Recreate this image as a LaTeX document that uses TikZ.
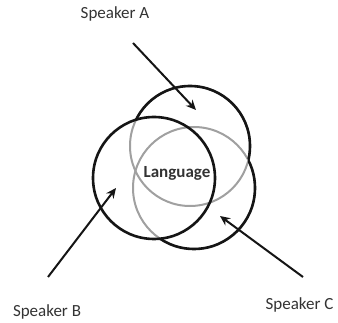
\documentclass[tikz,border=0pt]{standalone}
\usepackage{fontspec}
\setmainfont{Carlito}
\usetikzlibrary{arrows.meta,positioning}
\definecolor{vnblack}{HTML}{151515}
\definecolor{vngray}{HTML}{A0A0A0}
\definecolor{vntext}{HTML}{333333}

\begin{document}
\begin{tikzpicture}[x=1pt,y=1pt,>={Stealth[length=10pt,width=9pt]}]
    \tikzset{ring/.style={line width=2.6pt,draw=vnblack},
      shade/.style={line width=2pt,draw=vngray},
      speaker/.style={font=\fontsize{17}{19}\selectfont,text=vntext},
      pointer/.style={->,line width=2pt,vnblack}}
    \useasboundingbox (0,0) rectangle (338,322);
    % circle centres
    \coordinate (cA) at (190,176);
    \coordinate (cB) at (154,144);
    \coordinate (cC) at (194,134);
    % grey parts first, then black parts outside the other circles
    \draw[shade] (cA) circle (60);
    \draw[shade] (cC) circle (61);
    \begin{scope}[even odd rule]
      \clip (-10,-10) rectangle (350,340) (cB) circle (61);
      \clip (-10,-10) rectangle (350,340) (cC) circle (61);
      \draw[ring] (cA) circle (60);
    \end{scope}
    \begin{scope}[even odd rule]
      \clip (-10,-10) rectangle (350,340) (cA) circle (60);
      \clip (-10,-10) rectangle (350,340) (cB) circle (61);
      \draw[ring] (cC) circle (61);
    \end{scope}
    \draw[ring] (cB) circle (61);
    \node[font=\bfseries\fontsize{17}{19}\selectfont,text=vntext] (lang) at (177,149) {Language};
    \node[speaker] (spA) at (115,308) {Speaker A};
    \node[speaker] (spB) at (47,10) {Speaker B};
    \node[speaker,anchor=east] (spC) at (337,17) {Speaker C};
    \coordinate (tailA) at (133,279);
    \coordinate (headA) at (196,212);
    \coordinate (tailB) at (48,45);
    \coordinate (headB) at (116,134);
    \coordinate (tailC) at (303,45);
    \coordinate (headC) at (220,106);
    \draw[pointer] (tailA) -- (headA);
    \draw[pointer] (tailB) -- (headB);
    \draw[pointer] (tailC) -- (headC);
  \end{tikzpicture}
\end{document}
